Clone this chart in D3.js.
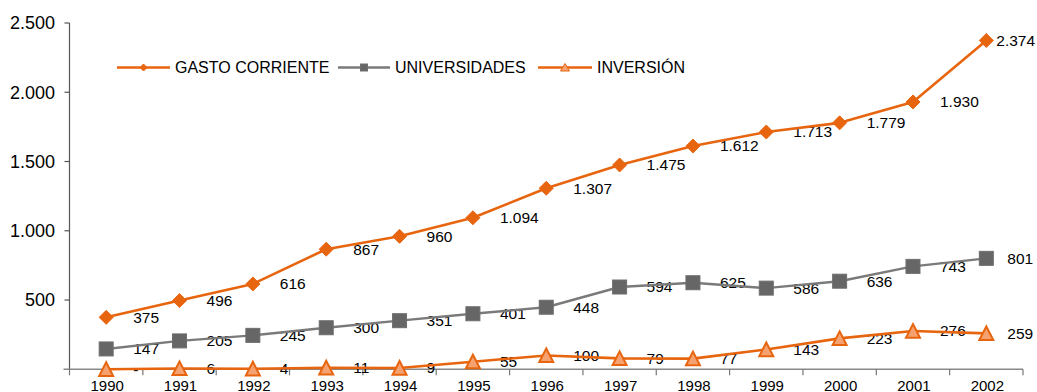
<!DOCTYPE html>
<html>
<head>
<meta charset="utf-8">
<script src="https://cdn.jsdelivr.net/npm/d3@7"></script>
<style>
  html, body { margin: 0; padding: 0; background: #fff; }
  svg { display: block; }
  text { font-family: "Liberation Sans", Arial, Helvetica, sans-serif; fill: #000; }
</style>
</head>
<body>
<svg id="chart" width="1037" height="392"></svg>
<script>
const years = ["1990","1991","1992","1993","1994","1995","1996","1997","1998","1999","2000","2001","2002"];
const gastoCorriente = [375, 496, 616, 867, 960, 1094, 1307, 1475, 1612, 1713, 1779, 1930, 2374];
const universidades = [147, 205, 245, 300, 351, 401, 448, 594, 625, 586, 636, 743, 801];
const inversion = [0, 6, 4, 11, 9, 55, 100, 79, 77, 143, 223, 276, 259];
const yTicks = [500, 1000, 1500, 2000, 2500];
const seriesNames = ["GASTO CORRIENTE", "UNIVERSIDADES", "INVERSIÓN"];

(function () {
const ORANGE = "#E8650F";
const GRAY = "#7a7a7a";

const series = [
  { name: seriesNames[0], values: gastoCorriente, stroke: ORANGE, fill: ORANGE, mstroke: ORANGE, shape: "diamond", width: 2.6, lastOffset: 10 },
  { name: seriesNames[1], values: universidades, stroke: GRAY, fill: "#666666", mstroke: "#666666", shape: "square", width: 2.4, lastOffset: 21 },
  { name: seriesNames[2], values: inversion, stroke: ORANGE, fill: "#F5A270", mstroke: ORANGE, shape: "triangle", width: 2.6, lastOffset: 21 }
];

const svg = d3.select("#chart");
const mLeft = 69.5, mRight = 1023, mTop = 23, mBottom = 369.3;

const x = d3.scaleBand().domain(years).range([mLeft, mRight]).padding(0);
const y = d3.scaleLinear().domain([0, 2500]).range([mBottom, mTop]);
const cx = d => x(d) + x.bandwidth() / 2;

const fmt = v => v === 0 ? "-" : d3.format(",")(v).replace(/,/g, ".");

// Y axis
svg.append("line").attr("x1", mLeft).attr("x2", mLeft).attr("y1", y(2500)).attr("y2", mBottom)
  .attr("stroke", "#555").attr("stroke-width", 1.2);
svg.selectAll(".ytick").data(yTicks).enter().append("line")
  .attr("x1", mLeft - 5).attr("x2", mLeft).attr("y1", d => y(d)).attr("y2", d => y(d))
  .attr("stroke", "#555").attr("stroke-width", 1.2);
svg.selectAll(".ylab").data(yTicks).enter().append("text")
  .attr("x", 55).attr("y", d => y(d)).attr("dy", "0.35em")
  .attr("text-anchor", "end").attr("font-size", 18)
  .text(d => fmt(d));

// X axis
svg.append("line").attr("x1", mLeft - 6).attr("x2", mRight).attr("y1", mBottom).attr("y2", mBottom)
  .attr("stroke", "#888").attr("stroke-width", 1.5);
const bounds = years.map(d => x(d)).concat([x(years[years.length - 1]) + x.bandwidth()]);
svg.selectAll(".xtick").data(bounds).enter().append("line")
  .attr("x1", d => d).attr("x2", d => d).attr("y1", mBottom).attr("y2", mBottom + 6)
  .attr("stroke", "#777").attr("stroke-width", 1.2);
svg.selectAll(".xlab").data(years).enter().append("text")
  .attr("x", d => cx(d) + 1).attr("y", 390.5)
  .attr("text-anchor", "middle").attr("font-size", 15)
  .text(d => d);

function marker(g, shape, size, s) {
  const h = size / 2;
  if (shape === "diamond") {
    g.append("path").attr("d", `M0,${-h}L${h},0L0,${h}L${-h},0Z`)
      .attr("fill", s.fill).attr("stroke", s.mstroke).attr("stroke-width", 1);
  } else if (shape === "square") {
    g.append("rect").attr("x", -h).attr("y", -h).attr("width", size).attr("height", size)
      .attr("fill", s.fill).attr("stroke", "#6e6e6e").attr("stroke-width", 1);
  } else {
    g.append("path").attr("d", `M0,${-h}L${h},${h * 0.95}L${-h},${h * 0.95}Z`)
      .attr("fill", s.fill).attr("stroke", s.mstroke).attr("stroke-width", 2);
  }
}

const line = d3.line().x((d, i) => cx(years[i])).y(d => y(d));

// labels first (under lines/markers)
series.forEach(s => {
  svg.append("g").selectAll("text").data(s.values).enter().append("text")
    .attr("x", (d, i) => cx(years[i]) + (i === years.length - 1 ? s.lastOffset : 27))
    .attr("y", d => y(d)).attr("dy", "0.35em")
    .attr("font-size", 15.5)
    .text(d => fmt(d));
});

series.slice().reverse().forEach(s => {
  svg.append("path").datum(s.values).attr("d", line)
    .attr("fill", "none").attr("stroke", s.stroke).attr("stroke-width", s.width)
    .attr("stroke-linejoin", "round");
  s.values.forEach((v, i) => {
    const g = svg.append("g").attr("transform", `translate(${cx(years[i])},${y(v)})`);
    marker(g, s.shape, 14, s);
  });
});

// Legend
const legend = [
  { s: series[0], x1: 117, x2: 170, tx: 175 },
  { s: series[1], x1: 338, x2: 390, tx: 395 },
  { s: series[2], x1: 538, x2: 592, tx: 597 }
];
const ly = 67.5;
legend.forEach(l => {
  svg.append("line").attr("x1", l.x1).attr("x2", l.x2).attr("y1", ly).attr("y2", ly)
    .attr("stroke", l.s.stroke).attr("stroke-width", l.s.width);
  const g = svg.append("g").attr("transform", `translate(${(l.x1 + l.x2) / 2},${ly})`);
  if (l.s.shape === "triangle") {
    g.append("path").attr("d", "M0,-4L4.5,3.5L-4.5,3.5Z").attr("fill", l.s.fill).attr("stroke", l.s.mstroke).attr("stroke-width", 1);
  } else {
    marker(g, l.s.shape, 7, l.s);
  }
  svg.append("text").attr("x", l.tx).attr("y", ly).attr("dy", "0.35em")
    .attr("font-size", 16).text(l.s.name);
});
})();
</script>
</body>
</html>
